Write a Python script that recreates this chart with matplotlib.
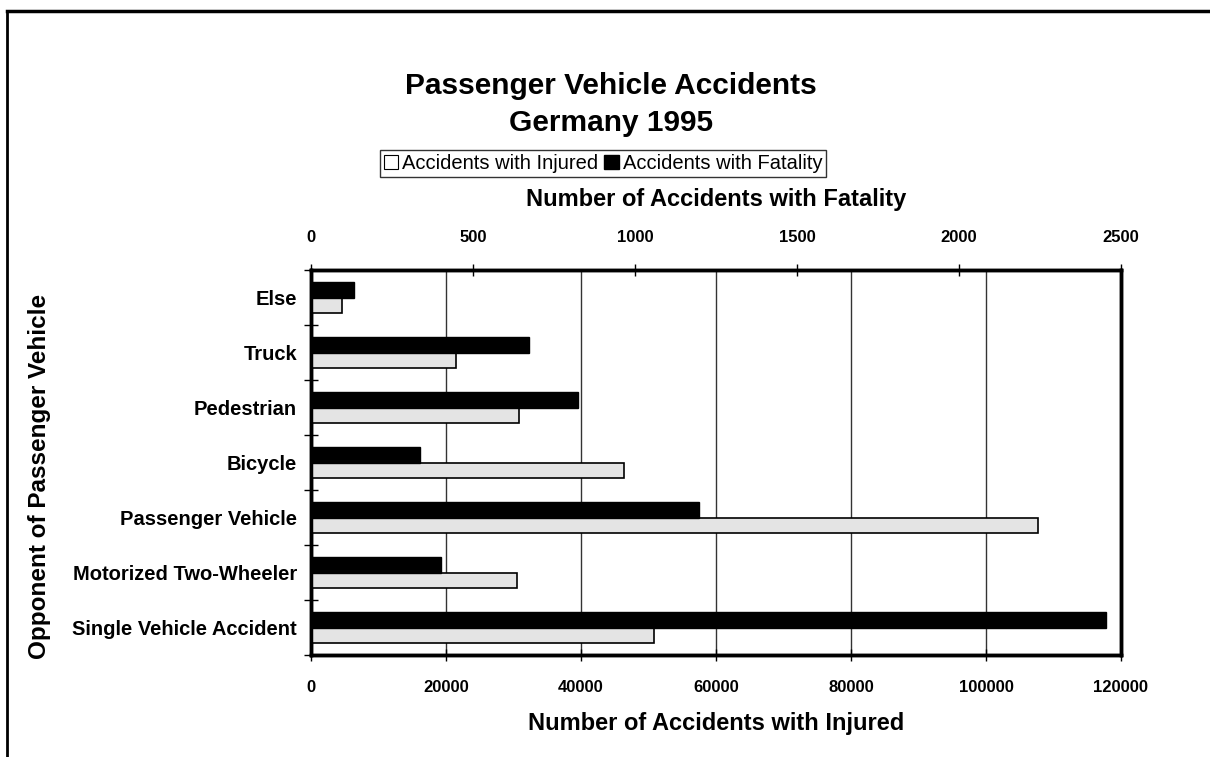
import matplotlib.pyplot as plt
from matplotlib.lines import Line2D
from matplotlib.patches import Patch
import numpy as np

plt.rcParams['font.family'] = ['Liberation Sans', 'DejaVu Sans']

categories = ['Single Vehicle Accident', 'Motorized Two-Wheeler', 'Passenger Vehicle',
              'Bicycle', 'Pedestrian', 'Truck', 'Else']
injured = [50800, 30500, 107700, 46400, 30800, 21500, 4600]
fatality = [2454, 401, 1198, 336, 824, 673, 133]

inj_ticks = [0, 20000, 40000, 60000, 80000, 100000, 120000]
fat_ticks = [0, 500, 1000, 1500, 2000, 2500]

fig = plt.figure(figsize=(12.1, 7.57), dpi=100)
ax = fig.add_axes([0.257, 0.1347, 0.6694, 0.5086])
ax2 = ax.twiny()

y = np.arange(len(categories))
h = 0.29

ax.barh(y - h / 2, injured, height=h, color='#e4e4e4', edgecolor='black', linewidth=1.2,
        zorder=3)
ax2.barh(y + h / 2, fatality, height=h, color='black', edgecolor='black', linewidth=1,
         zorder=3)

ax.set_xlim(0, 120000)
ax2.set_xlim(0, 2500)
ax.set_ylim(-0.5, len(categories) - 0.5)

ax.set_xticks(inj_ticks)
ax.set_xticklabels([str(t) for t in inj_ticks], fontsize=12, fontweight='bold')
ax2.set_xticks(fat_ticks)
ax2.set_xticklabels([str(t) for t in fat_ticks], fontsize=12, fontweight='bold')

ax.set_yticks(y)
ax.set_yticklabels(categories, fontsize=14.5, fontweight='bold')
ax.set_yticks(np.arange(-0.5, len(categories)), minor=True)
ax.tick_params(axis='y', which='major', length=0, pad=10)
ax.tick_params(axis='y', which='minor', direction='inout', length=10, width=1)
ax.tick_params(axis='x', direction='inout', length=8, width=1, pad=14)
ax2.tick_params(axis='x', direction='inout', length=8, width=1, pad=14)

ax.xaxis.grid(True, color='#333333', linewidth=1)
ax.set_axisbelow(True)

for a in (ax, ax2):
    for s in a.spines.values():
        s.set_linewidth(2.5)

ax.set_xlabel('Number of Accidents with Injured', fontsize=17, fontweight='bold', labelpad=12)
ax2.set_xlabel('Number of Accidents with Fatality', fontsize=17, fontweight='bold', labelpad=17)
ax.set_ylabel('Opponent of Passenger Vehicle', fontsize=17.5, fontweight='bold')
ax.yaxis.set_label_coords(-0.321, 0.465)

fig.text(0.505, 0.862, 'Passenger Vehicle Accidents\nGermany 1995', ha='center', va='center',
         fontsize=21.5, fontweight='bold', linespacing=1.45)

handles = [Patch(facecolor='white', edgecolor='black', linewidth=0.8),
           Patch(facecolor='black', edgecolor='black')]
leg = fig.legend(handles, ['Accidents with Injured', 'Accidents with Fatality'],
                 loc='center', bbox_to_anchor=(0.4985, 0.784), ncol=2, fontsize=14.5,
                 frameon=True, fancybox=False, edgecolor='black', handlelength=0.7,
                 handleheight=0.7, handletextpad=0.2, columnspacing=0.3, borderpad=0.2,
                 borderaxespad=0)
leg.get_frame().set_linewidth(1)

# page frame (top and left edges)
fig.add_artist(Line2D([0.006, 1.0], [0.986, 0.986], color='black', linewidth=2.5))
fig.add_artist(Line2D([0.006, 0.006], [0.0, 0.986], color='black', linewidth=2))

fig.savefig('out.png', dpi=100)
